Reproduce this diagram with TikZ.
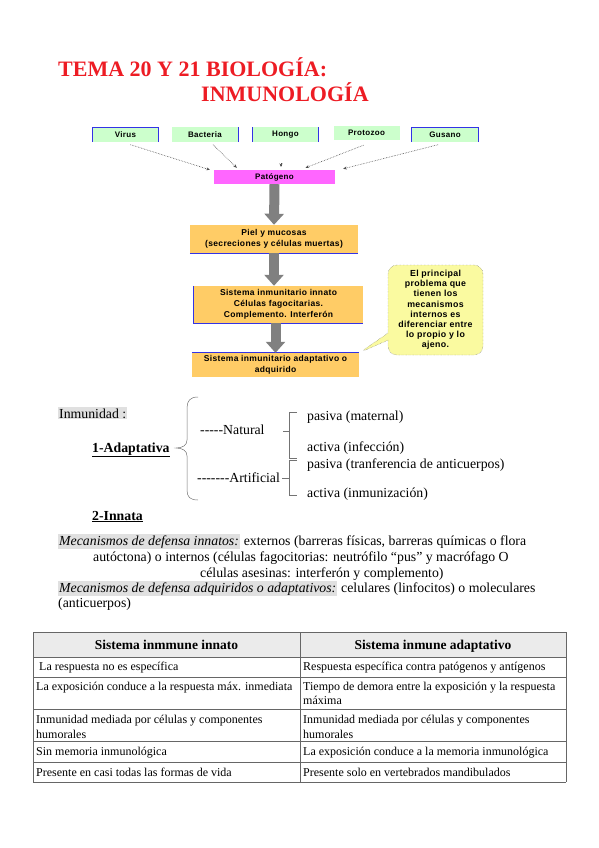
\documentclass[tikz,border=0pt]{standalone}
\usepackage{fontspec}
\setmainfont{Liberation Serif}
\newfontfamily\boxfont[LetterSpace=4]{Liberation Sans}
\usetikzlibrary{arrows.meta,calc,shapes.callouts}

\definecolor{titlered}{RGB}{237,28,36}
\definecolor{germgreen}{RGB}{204,255,204}
\definecolor{patpink}{RGB}{255,102,255}
\definecolor{boxorange}{RGB}{255,204,102}
\definecolor{edgeblue}{RGB}{51,51,230}
\definecolor{noteyellow}{RGB}{250,250,160}
\definecolor{hlgray}{RGB}{224,224,224}

\tikzset{
  title/.style={anchor=base west,inner sep=0pt,text=titlered,font=\bfseries\fontsize{22}{24}\selectfont},
  germ/.style={fill=germgreen,minimum width=66pt,minimum height=14pt,inner sep=0pt,font=\boxfont\bfseries\fontsize{8}{9}\selectfont},
  patbox/.style={fill=patpink,minimum width=121pt,minimum height=14pt,inner sep=0pt,font=\boxfont\bfseries\fontsize{8}{9}\selectfont},
  orbox/.style={fill=boxorange,inner sep=0pt,align=center,font=\boxfont\bfseries\fontsize{8.5}{11}\selectfont},
  note/.style={rectangle callout,fill=noteyellow,draw=black!60,densely dotted,rounded corners=9pt,
    minimum width=95pt,minimum height=90pt,inner sep=0pt,align=center,font=\boxfont\bfseries\fontsize{8.8}{10.2}\selectfont},
  blueedge/.style={draw=edgeblue,line width=0.9pt},
  germarrow/.style={densely dotted,draw=black!70,line width=0.6pt,-{Stealth[length=3.5pt,width=3pt]}},
  bigarrow/.style={draw=black!50,line width=10pt,-{Triangle[width=19pt,length=11pt]}},
  txt/.style={anchor=base west,inner sep=0pt,font=\fontsize{13.8}{16}\selectfont},
  hl/.style={txt,fill=hlgray,inner sep=1pt},
  brk/.style={draw=black!55,line width=0.5pt},
  tline/.style={draw=black!60,line width=0.8pt},
  th/.style={anchor=base,inner sep=0pt,font=\bfseries\fontsize{13.5}{16}\selectfont},
  td/.style={anchor=base west,inner sep=0pt,font=\fontsize{12}{14}\selectfont}
}

\begin{document}
\begin{tikzpicture}[x=1pt,y=-1pt]
  \useasboundingbox (0,0) rectangle (599,848);

  \node[title] (t1) at (58,77) {TEMA 20 Y 21 BIOLOGÍA:};
  \node[title] (t2) at (201,102) {INMUNOLOGÍA};

  \node[germ] (virus) at (125.5,134.5) {Virus};
  \node[germ] (bacteria) at (205,134.5) {Bacteria};
  \node[germ] (hongo) at (285.5,134.5) {Hongo};
  \node[germ] (protozoo) at (366.5,133) {Protozoo};
  \node[germ] (gusano) at (445,134.5) {Gusano};
  \draw[blueedge] (virus.south west) |- (virus.north east) -- (virus.south east);
  \draw[blueedge] (bacteria.north east) -- (bacteria.south east);
  \draw[blueedge] (hongo.north west) -- (hongo.south west);
  \draw[blueedge] (hongo.north east) -- (hongo.south east);
  \draw[blueedge] (gusano.south west) |- (gusano.north east) -- (gusano.south east);

  \node[patbox] (pat) at (274.5,177) {Patógeno};
  \coordinate (hongotip) at (281,163);
  \draw[germarrow] ($(virus.south)+(5,3)$) -- ($(pat.north west)+(-4,0)$);
  \draw[germarrow] ($(bacteria.south)+(8,3)$) -- ($(pat.north west)+(23,-2)$);
  \draw[germarrow] (hongotip) -- ($(hongotip)+(0,4)$);
  \draw[germarrow] ($(protozoo.south)+(-3,5)$) -- ($(pat.north)+(31,-2)$);
  \draw[germarrow] ($(gusano.south)+(-7,3)$) -- ($(pat.north east)+(8,-1)$);

  \node[orbox,minimum width=168pt,minimum height=28pt] (piel) at (274,239)
    {Piel y mucosas\\(secreciones y células muertas)};
  \node[orbox,minimum width=169pt,minimum height=37pt] (innato) at (278.5,304.5)
    {Sistema inmunitario innato\\Células fagocitarias.\\Complemento. Interferón};
  \node[orbox,minimum width=167pt,minimum height=24pt] (adapt) at (275.5,365)
    {Sistema inmunitario adaptativo o\\adquirido};
  \draw[blueedge] (piel.south west) -- (piel.south east);
  \draw[blueedge] (innato.north west) |- (innato.south east);
  \draw[blueedge] (adapt.north west) -- (adapt.north east);

  \draw[bigarrow] (pat.south) -- (piel.north);
  \draw[bigarrow] (piel.south) -- (innato.north-|piel.south);
  \draw[bigarrow] (innato.south-|adapt.north) -- (adapt.north);

  \node[note,callout absolute pointer={(adapt.north east)}] (nota) at (435.5,310)
    {El principal\\problema que\\tienen los\\mecanismos\\internos es\\diferenciar entre\\lo propio y lo\\ajeno.};

  \node[hl] (inm) at (58,418) {Inmunidad :};
  \node[txt] (adap) at (92,452) {\underline{\textbf{1-Adaptativa}}};
  \node[txt] (nat) at (200,434) {{-}{-}{-}{-}{-}Natural};
  \node[txt] (art) at (197,482) {{-}{-}{-}{-}{-}{-}{-}Artificial};
  \node[txt] (pm) at (307,420) {pasiva (maternal)};
  \node[txt] (ai) at (307,451) {activa (infección)};
  \node[txt] (pt) at (307,468) {pasiva (tranferencia de anticuerpos)};
  \node[txt] (ain) at (307,497) {activa (inmunización)};
  \node[txt] (inn) at (92,520) {\underline{\textbf{2-Innata}}};

  \draw[brk] (198,397) .. controls (190,397) and (187,401) .. (187,408) -- (187,440)
    .. controls (187,445) and (183,448) .. (176,448)
    .. controls (183,448) and (187,451) .. (187,456) -- (187,490)
    .. controls (187,497) and (190,500) .. (198,500);
  \draw[brk] (297,412) -- (289,412) -- (289,458) -- (297,458);
  \draw[brk] (283,431) -- (289,431);
  \draw[brk] (297,460) -- (289,460) -- (289,495) -- (297,495);
  \draw[brk] (282,478) -- (289,478);

  \node[hl,font=\itshape\fontsize{13.8}{16}\selectfont] (mi) at (58,545) {Mecanismos de defensa innatos:};
  \node[txt] (mitext) at (mi.base east) {\ externos (barreras físicas, barreras químicas o flora};
  \node[txt] (line2) at (93,561) {autóctona) o internos (células fagocitorias: neutrófilo “pus” y macrófago O};
  \node[txt] (line3) at (200,577) {células asesinas: interferón y complemento)};
  \node[hl,font=\itshape\fontsize{13.8}{16}\selectfont] (ma) at (58,592) {Mecanismos de defensa adquiridos o adaptativos:};
  \node[txt] (matext) at (ma.base east) {\ celulares (linfocitos) o moleculares};
  \node[txt] (line5) at (58,607) {(anticuerpos)};

  \fill[black!8] (33,632) rectangle (566,657);
  \foreach \y in {632,657,677,709,741,762,782}
    \draw[tline] (33,\y) -- (566,\y);
  \foreach \x in {33,300,566}
    \draw[tline] (\x,632) -- (\x,782);
  \node[th] (h1) at (166.5,649) {Sistema inmmune innato};
  \node[th] (h2) at (433,649) {Sistema inmune adaptativo};
  \node[td] (a1) at (39,670) {La respuesta no es específica};
  \node[td] (b1) at (303,670) {Respuesta específica contra patógenos y antígenos};
  \node[td] (a2) at (36,690) {La exposición conduce a la respuesta máx. inmediata};
  \node[td] (b2) at (303,690) {Tiempo de demora entre la exposición y la respuesta};
  \node[td] (b2b) at (303,704) {máxima};
  \node[td] (a3) at (36,723) {Inmunidad mediada por células y componentes};
  \node[td] (a3b) at (36,738) {humorales};
  \node[td] (b3) at (303,723) {Inmunidad mediada por células y componentes};
  \node[td] (b3b) at (303,738) {humorales};
  \node[td] (a4) at (36,755) {Sin memoria inmunológica};
  \node[td] (b4) at (303,755) {La exposición conduce a la memoria inmunológica};
  \node[td] (a5) at (36,776) {Presente en casi todas las formas de vida};
  \node[td] (b5) at (303,776) {Presente solo en vertebrados mandibulados};
\end{tikzpicture}
\end{document}
